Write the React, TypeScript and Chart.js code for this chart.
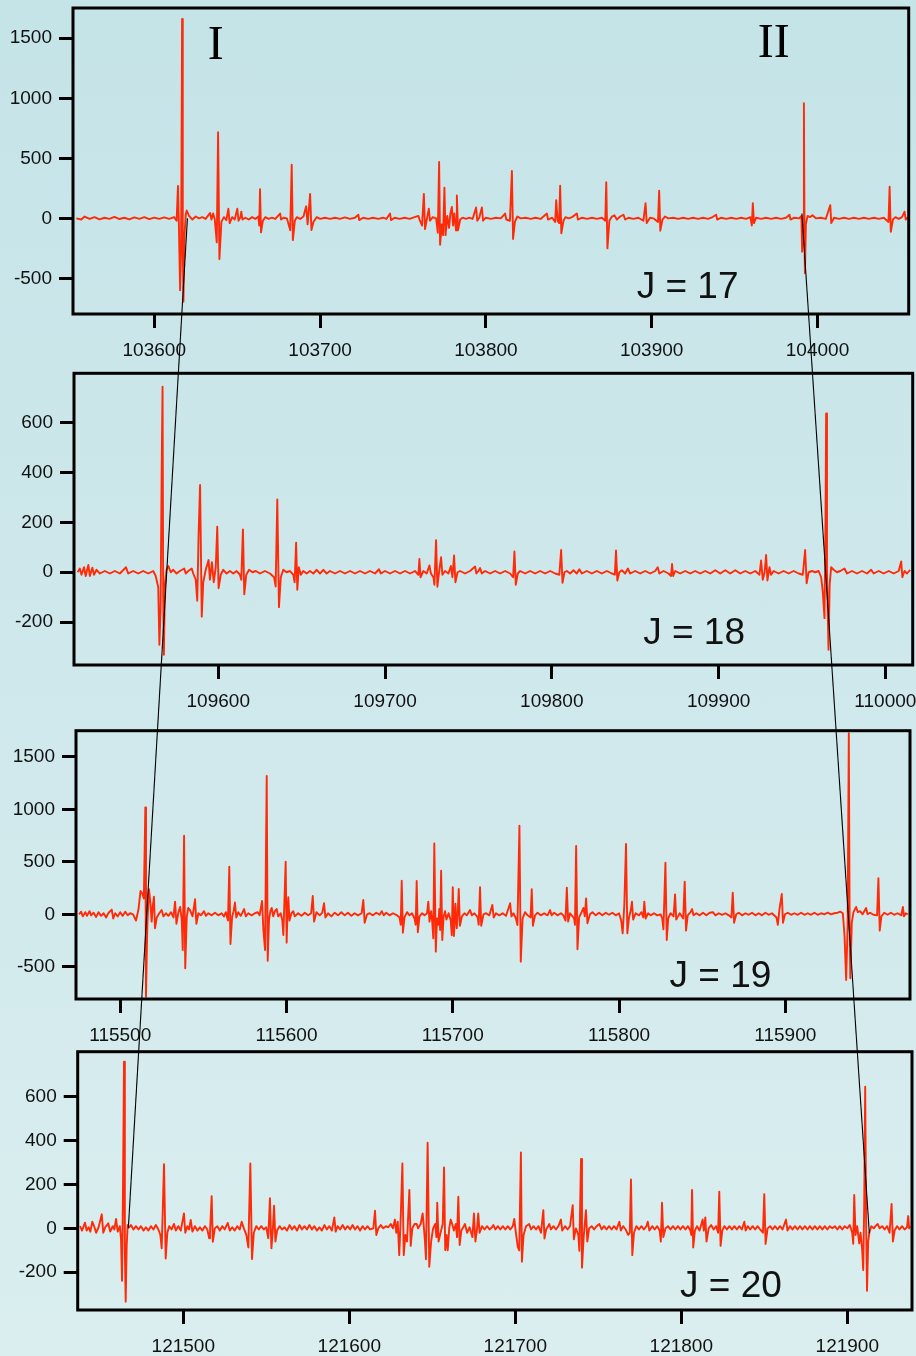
import React, { useEffect, useRef } from "react";
import { Chart, registerables } from "chart.js";

Chart.register(...registerables);

type Pt = [number, number];

// ---- spectra (wavenumber, signal) ----
const spectrumJ17: Pt[] = [
  [103553, 0], [103556, -10], [103558, 15], [103561, -5], [103564, 10], [103567, -8], [103570, 5], [103573, -5], [103576, 12], [103579, -6], [103582, 5], [103585, -8], [103588, 8], [103591, -4], [103594, 10], [103597, -6], [103600, 6], [103603, -5], [103606, 8], [103609, -4], [103612, 10], [103613.5, -20],
  [103614.3, 270], [103614.9, -80], [103615.6, -600], [103616.2, -250], [103616.8, 1660], [103617.2, -200], [103617.6, -695], [103618.2, -150], [103619, 30], [103619.6, 65], [103621, 20], [103623, -10], [103625, 15], [103627, 0], [103629, 10], [103631, -5],
  [103633.7, 45], [103634.5, -10], [103635.5, 40], [103636.5, -10], [103637.7, -200], [103638.5, 717], [103639.3, -339], [103640.5, -30], [103642, 10], [103643.5, -15], [103644.7, 80], [103645.5, -40], [103647, 10], [103648.5, -10], [103650.1, 80], [103650.8, -20], [103652, 10], [103652.5, 55], [103653.2, -10], [103655, 5], [103657, -10], [103659, 10], [103661, -5], [103662.8, 15], [103663.3, -60], [103663.8, 242], [103664.4, -117], [103665.5, -20], [103667, 10], [103669, -5], [103671, 5], [103673, -5], [103675.9, 40], [103676.5, -10], [103678, 5], [103680, 0], [103682, -100], [103682.9, 447], [103683.6, -181], [103684.8, -20], [103686, 10], [103688, -5], [103690, 15], [103691.6, 100], [103692.5, -50], [103694, 203], [103694.8, -97], [103696, -30], [103698, 10], [103700, -5], [103703, 5], [103706, -5], [103709, 5], [103712, -5], [103715, 8], [103718, -5], [103721, 5], [103723.1, 30], [103723.6, -15], [103726, 5], [103729, -5], [103732, 5], [103735, -5], [103738, 5], [103740, -5], [103742.2, 40], [103742.8, -15], [103745, 5], [103748, -5], [103751, 5], [103754, -5], [103757, 10], [103759.3, 20], [103760, -10], [103761.5, -60], [103762.6, 204], [103763.3, -90], [103764.5, 0], [103765.6, 80], [103766.3, -20], [103768, 10], [103770, 0], [103771, -120], [103771.8, 470], [103772.4, -220], [103773.4, -50], [103774.2, -140], [103775, 255], [103775.7, -140], [103776.7, 20], [103777.8, -80], [103778.6, 40], [103779.5, 95], [103780.2, -60], [103781, 40], [103782, -100], [103782.5, 190], [103783.2, -100], [103784.5, -10], [103786, 5], [103788, -5], [103790, 5], [103792, -5], [103794.1, 90], [103794.8, -20], [103796, 5], [103797.6, 90], [103798.3, -20], [103800, 5], [103803, -5], [103806, 5], [103809, 0], [103811.6, 40], [103812.3, -10], [103814.5, -20], [103815.7, 394], [103816.4, -172], [103817.5, -30], [103819, 15], [103821, 0], [103824, 5], [103827, -5], [103830, 5], [103833, -5], [103836.8, 40], [103837.5, -10], [103840, 5], [103841.8, -30], [103842.4, 150], [103843.3, -20], [103844.2, -40], [103844.8, 272], [103845.5, -125], [103846.8, -20], [103848, 10], [103850, 0], [103852, 10], [103854.9, 40], [103855.5, -10], [103858, 5], [103861, -5], [103864, 5], [103867, -5], [103870, 5], [103872, -20], [103872.6, 300], [103873.3, -250], [103874.5, -20], [103876, 15], [103877.5, 25], [103879, -10], [103881, 15], [103883, 30], [103884, -10], [103886, 5], [103889, -5], [103892, 5], [103895, -20], [103896.3, 125], [103897, -40], [103899, 5], [103901, 0], [103903.8, -30], [103904.5, 230], [103905.2, -103], [103906.5, -10], [103908, 15], [103910, 0], [103913, 5], [103916, -5], [103919, 5], [103922, -5], [103925, 5], [103928, -5], [103931, 5], [103934, -5], [103936, 5], [103938.9, 30], [103939.5, -10], [103942, 5], [103945, -5], [103948, 5], [103951, -5], [103954, 5], [103957, -5], [103959.5, 10], [103960.4, -60], [103961, 125], [103961.7, -40], [103963, 5], [103966, -5], [103969, 5], [103972, -5], [103975, 5], [103978, -5], [103981, 5], [103983.1, 30], [103983.7, -10], [103986, 5], [103989, 0], [103990.3, 20], [103990.7, -278], [103991.3, -100], [103991.8, 958], [103992.2, -200], [103992.4, -458], [103993, -50], [103994, 20], [103995.5, 10], [103997, 25], [103999, 0], [104002, 5], [104005, -5], [104007.7, 110], [104008.3, -40], [104010, 5], [104013, -5], [104016, 5], [104019, -5], [104022, 5], [104025, -5], [104028, 5], [104031, -5], [104034, 5], [104037, -5], [104040, 5], [104042.8, -30], [104043.5, 263], [104044.2, -112], [104045.5, -10], [104047, 10], [104049, -5], [104051, 10], [104052.5, 55], [104053.2, -10], [104054.5, 10],
];

const spectrumJ18: Pt[] = [
  [109515.7, 0], [109517, 15], [109518, -10], [109519.5, 20], [109520.5, -15], [109522.1, 29], [109523, -15], [109524.5, 18], [109525.5, -10], [109527, 10], [109529, -5], [109532, 5], [109535, -5], [109538, 5], [109541, -5], [109544.7, 20], [109546, -5], [109549, 5], [109552, -5], [109555, 5], [109558, -5], [109561, 5], [109562.5, -15], [109564, -60], [109564.7, -291], [109565.4, -150], [109566.1, 430], [109566.6, 744], [109567, -100], [109567.4, -331], [109568, -50], [109569, 10], [109570.1, 25], [109571.5, 0], [109573, 10], [109575, -5], [109577, 5], [109579.6, 15], [109580.5, -5], [109582, 5], [109584.1, 15], [109585, -5], [109586.5, -30], [109587.4, -114], [109588.2, 150], [109589.1, 350], [109590.1, -178], [109591, -40], [109592.5, 10], [109594.2, 49], [109595, -30], [109596.2, 40], [109597.3, -40], [109598.5, 20], [109599.4, 183], [109600.2, -64], [109601.5, -10], [109603, 10], [109605, -5], [109607, 5], [109609, -5], [109611, 5], [109613, -10], [109613.8, -30], [109614.8, 172], [109615.6, -88], [109616.8, -10], [109618.5, 10], [109620.5, 0], [109622.5, 5], [109625, -5], [109628, 5], [109631, -5], [109633.5, -20], [109634.4, -57], [109635.4, 292], [109636.4, -140], [109637.5, -20], [109639, 10], [109641, 0], [109643, 5], [109645, -10], [109645.8, -40], [109646.7, 119], [109647.4, -70], [109648.3, 20], [109649.5, -10], [109651, 5], [109653, -5], [109655, 5], [109657, -5], [109659, 10], [109661, -5], [109663, 10], [109665, -5], [109667, 5], [109670, -5], [109673, 5], [109676, -5], [109679, 5], [109682, -5], [109685, 5], [109688, -5], [109691, 5], [109694, -5], [109696.4, 12], [109697.5, -5], [109700, 5], [109703, -5], [109706, 5], [109709, -5], [109712, 5], [109715, -5], [109718, 5], [109720, -10], [109720.6, 53], [109721.3, -20], [109723, 5], [109725, -5], [109726.6, 27], [109727.5, -5], [109729, -20], [109729.6, -50], [109730.6, 129], [109731.4, -58], [109732.4, 0], [109733.6, 60], [109734.4, -10], [109736, 5], [109738, -5], [109739.5, 25], [109740.4, -20], [109741.4, 67], [109742.2, -40], [109743.5, 0], [109745, 5], [109748, -5], [109751, 5], [109754, 23], [109754.8, -5], [109756, 5], [109757, 17], [109758, -5], [109760, 5], [109763, -5], [109766, 5], [109769, -5], [109772, 5], [109775, -5], [109776.8, -20], [109777.6, 83], [109778.4, -50], [109779.6, -5], [109781, 5], [109784, -5], [109787, 5], [109790, -5], [109793, 5], [109796, -5], [109799, 5], [109802, -5], [109804.5, -10], [109805.6, 89], [109806.4, -42], [109807.6, 0], [109809, 5], [109811, -5], [109813, 8], [109815, -5], [109816.5, 12], [109818, -5], [109821, 5], [109824, -5], [109827, 5], [109830, -5], [109833, 5], [109836, -5], [109837.8, -10], [109838.5, 87], [109839.3, -33], [109840.5, 0], [109842, 8], [109844, -5], [109845.6, 15], [109847, -5], [109850, 5], [109853, -5], [109856, 5], [109859, -5], [109862, 5], [109863.5, 20], [109864.5, -5], [109867, 5], [109870, -5], [109871.5, -15], [109872.1, 33], [109872.8, -15], [109874, 5], [109877, -5], [109880, 5], [109883, -5], [109886, 5], [109889, -5], [109892, 5], [109895, -5], [109898, 8], [109901, -5], [109904, 8], [109907, -5], [109910, 8], [109913, -5], [109916, 5], [109919, -5], [109922, 5], [109924.5, -10], [109925.5, 47], [109926.5, -30], [109927.6, 0], [109928.5, 69], [109929.3, -33], [109930.5, 20], [109931.5, -10], [109933, 5], [109936, -5], [109939, 5], [109942, -5], [109945, 5], [109948, -5], [109950.5, -10], [109951.9, 89], [109952.8, -44], [109954, 0], [109956, 5], [109958, 0], [109960, 5], [109961.5, -20], [109962.5, -80], [109963.5, -184], [109964.1, 200], [109964.5, 637], [109965, 0], [109965.9, -311], [109966.6, -50], [109967.5, 20], [109969, 10], [109971, 0], [109973, 5], [109975.5, 15], [109977, -5], [109980, 5], [109983, -5], [109986, 5], [109989, -5], [109991.5, 10], [109993, -5], [109996, 5], [109999, -5], [110002, 5], [110005, -5], [110008, 5], [110009.5, 43], [110010.2, -20], [110011.5, 5], [110013, -5], [110014.9, 10],
];

const spectrumJ19: Pt[] = [
  [115475.2, 0], [115476.5, 25], [115477.5, -20], [115479, 20], [115480, -15], [115481.5, 30], [115482.5, -10], [115484, 15], [115485.5, -25], [115487, 20], [115488.5, -15], [115490, 10], [115491.5, -30], [115493, 15], [115494.9, 45], [115495.8, -40], [115497, 10], [115498.5, -20], [115500, 20], [115501.5, -15], [115503, 25], [115504.5, -10], [115506, 10], [115507.7, 0], [115509.5, -60], [115511, 50], [115512.2, 222], [115513.2, 200], [115514.2, 150], [115515.1, 1019], [115515.5, -785], [115516.3, -100], [115517.3, 238], [115518.2, 100], [115518.9, -70], [115519.6, 80], [115520.3, 168], [115520.9, -133], [115522, -30], [115523.5, 10], [115524.9, 40], [115526, -20], [115527.5, 10], [115529, -15], [115530.5, 20], [115532, -30], [115533, 120], [115533.8, -90], [115535, 20], [115536, 70], [115537, -50], [115537.6, -340], [115538.4, 749], [115539.1, -514], [115540, -30], [115540.9, 60], [115542, 40], [115543.5, -20], [115545, 143], [115545.8, -90], [115547, 10], [115548.5, -10], [115550.4, 30], [115551.5, -15], [115553, 10], [115555, -10], [115557, 15], [115559, -10], [115561, 10], [115562.4, -20], [115563.5, 20], [115564.8, -60], [115565.6, 453], [115566.3, -283], [115567.3, -20], [115568.2, 30], [115569, 112], [115569.8, -30], [115571, 20], [115572.5, -15], [115574.5, 50], [115575.5, -20], [115577, 10], [115579, -10], [115581, 10], [115582.7, 20], [115583.8, -10], [115585.3, 127], [115586.1, -150], [115587.1, -340], [115588.1, 1317], [115588.7, -442], [115589.5, -50], [115590.3, 30], [115591.1, 60], [115592, -20], [115593, 30], [115594.1, 50], [115595, -20], [115596.5, 10], [115597.5, -60], [115598.1, -197], [115599.5, 501], [115600.1, -270], [115600.6, 20], [115601.1, 162], [115601.8, -60], [115603, 10], [115604.1, 30], [115605, -20], [115607, 10], [115609, -15], [115611, 15], [115613, -10], [115614.8, 10], [115615.8, 174], [115616.6, -70], [115618, 20], [115620, -10], [115621.5, 15], [115622.6, 105], [115623.4, -30], [115625, 10], [115627, -20], [115629, 15], [115631, -10], [115633, 20], [115635, -10], [115637, 15], [115639, -15], [115641, 10], [115643, -10], [115645.2, 10], [115646.2, 136], [115647, -80], [115648.5, 0], [115650, 10], [115652, -10], [115654, 15], [115656, -5], [115657.3, 30], [115658.5, -10], [115660, 15], [115662, -10], [115664, 10], [115666, -5], [115668, -30], [115668.7, -100], [115669.3, 320], [115670, -175], [115671, -30], [115672.5, 20], [115674, -10], [115675.5, 10], [115677, -40], [115677.7, -100], [115678.3, 317], [115679, -171], [115680, -20], [115681.5, 10], [115683, -10], [115684.5, 10], [115685.3, 120], [115686, -70], [115687, 30], [115687.7, -80], [115688.3, -229], [115688.9, 676], [115689.8, -356], [115690.5, -40], [115691.3, -100], [115691.9, 50], [115692.4, -150], [115693, 415], [115693.7, -245], [115694.5, -20], [115695.4, 30], [115696.2, -50], [115697.5, 10], [115698.8, -60], [115699.4, -200], [115700, 257], [115700.7, -207], [115701.2, -50], [115701.6, 100], [115702.4, -133], [115703, 0], [115703.6, 241], [115704.3, -110], [115705.5, -20], [115707, 10], [115708.5, -10], [115710.4, 40], [115711.5, -10], [115713, 10], [115715, -30], [115715.6, -100], [115716.4, 257], [115717.1, -110], [115718.5, 0], [115720, 10], [115722, -10], [115723.8, 89], [115724.6, -30], [115726, 10], [115728, -10], [115730, 10], [115732, -15], [115734.5, 105], [115735.3, -20], [115736.5, 10], [115738, -40], [115738.9, -102], [115740.1, 844], [115740.9, -451], [115742, -40], [115743.5, 20], [115745, -10], [115746.8, -30], [115747.5, 238], [115748.2, -110], [115749.5, -10], [115751, 15], [115753, -10], [115755, 10], [115757, -10], [115758.5, 40], [115759.5, -10], [115761, 15], [115763, -10], [115765, 10], [115766.5, -10], [115767.8, -60], [115768.6, 254], [115769.4, -70], [115770.5, 10], [115772, -20], [115773, -40], [115773.5, -100], [115774.2, 650], [115775, -333], [115776, -30], [115777.5, 20], [115778.6, 60], [115779.4, -20], [115780.2, 152], [115781, -86], [115782.5, 0], [115784, 20], [115786, -10], [115788, 15], [115790, -10], [115792, 15], [115794, -5], [115796, 15], [115798, -10], [115800, 10], [115801.3, -60], [115802.2, -181], [115803.2, 100], [115804.2, 669], [115805, -181], [115806, -30], [115807.1, 40], [115807.8, 120], [115808.5, -50], [115810, 10], [115812, -10], [115813.5, 20], [115814.6, -30], [115815.2, 120], [115816, -40], [115817.5, 10], [115819, -10], [115821, 10], [115823, -10], [115825, 0], [115826, -40], [115826.7, -143], [115827.9, 491], [115828.7, -245], [115829.6, -40], [115831, 10], [115832.8, -20], [115833.7, 190], [115834.4, -50], [115835.5, -20], [115836.5, 10], [115838.6, -40], [115839.5, 311], [115840.3, -156], [115841.3, -10], [115843, 20], [115843.9, 50], [115844.8, -10], [115846.5, 10], [115848.5, -10], [115850.5, 15], [115852.5, -10], [115854.5, 15], [115856.5, 20], [115858, -10], [115860, 10], [115862, -5], [115864, 10], [115866, -10], [115867.6, -30], [115868.4, 206], [115869.2, -80], [115870.5, 0], [115872, 15], [115874, -10], [115876, 10], [115878, -5], [115880, 15], [115882, -10], [115884, 10], [115886, -10], [115888, 15], [115890, -5], [115892, 10], [115894.7, -30], [115895.5, -100], [115896.5, 50], [115897.9, 194], [115898.6, -80], [115899.8, 0], [115901.5, 15], [115903.5, -5], [115905.5, 10], [115907.5, -5], [115909.5, 15], [115911.5, -5], [115913.5, 10], [115915.5, -5], [115917.5, 15], [115919.5, -5], [115921.5, 10], [115923.5, 0], [115925.5, 15], [115927.5, 0], [115929.5, 10], [115931.5, 15], [115933, 25], [115934.6, 10], [115935.6, -200], [115936.6, -626], [115937.5, -100], [115938.2, 1724], [115938.7, -100], [115939.1, -610], [115940, -80], [115941, 20], [115942.6, 70], [115943.6, 20], [115945, 30], [115946.5, 0], [115948.6, 60], [115949.5, 0], [115951, 15], [115953, -5], [115955.2, -10], [115956, 343], [115956.8, -156], [115957.8, -20], [115959.5, 15], [115961.5, -5], [115963.5, 15], [115965.5, -5], [115967.5, 10], [115969.8, -10], [115970.7, 70], [115971.4, -20], [115972.5, 10], [115973.7, 0],
];

const spectrumJ20: Pt[] = [
  [121437.8, 10], [121439, -10], [121440.8, 26], [121441.8, -10], [121443, 5], [121444, -15], [121445.2, 30], [121446.3, 10], [121447.5, -20], [121449, 5], [121450.9, 64], [121451.8, -20], [121453, 5], [121454.8, 23], [121456, -15], [121457.5, 10], [121458.5, -5], [121459.5, 43], [121460.5, -15], [121461.8, 10], [121462.5, -50], [121463.1, -239], [121463.7, 200], [121464.3, 759], [121464.8, -100], [121465.3, -334], [121465.9, -80], [121466.5, 15], [121467.5, 5], [121468.5, 15], [121470, -5], [121471.5, 10], [121473, -5], [121474.5, 10], [121476, -10], [121477.5, 5], [121479, -10], [121480.5, 10], [121482, -5], [121483.5, 15], [121485, -5], [121486.2, -30], [121487, -91], [121487.7, 100], [121488.4, 292], [121489.4, -137], [121490.4, -20], [121491.5, 10], [121493, -5], [121494.4, 20], [121495.5, -10], [121497, 10], [121498.5, -10], [121500.4, 68], [121501.2, -20], [121502.5, 10], [121503.5, -5], [121504.5, 38], [121505.5, -15], [121507, 10], [121508.5, -10], [121510, 5], [121511.5, -10], [121513, 10], [121514.5, -5], [121515.6, -45], [121516.1, -20], [121517.1, 147], [121517.8, -61], [121519, 0], [121520.5, 10], [121522, -10], [121523.5, 10], [121525, -5], [121526.8, 25], [121528, -10], [121529.5, 5], [121531, -10], [121532.5, 10], [121534, -5], [121535.2, 30], [121536.5, 0], [121538, -30], [121539.2, -87], [121540.4, 296], [121541.4, -140], [121542.5, -20], [121544, 10], [121545.5, -5], [121547, 10], [121548.5, -5], [121550, 5], [121551.2, -45], [121552.2, 137], [121553.1, -91], [121554, 0], [121554.7, 103], [121555.5, -60], [121556.5, -10], [121558, 10], [121559.5, -5], [121561, 5], [121562.5, -10], [121564, 15], [121565.5, -5], [121567, 10], [121568.5, -10], [121570, 15], [121571.5, -5], [121573, 10], [121574.5, -5], [121576, 15], [121577.5, -5], [121579, 10], [121580.5, -10], [121582, 5], [121583.5, -10], [121585, 15], [121586.5, -5], [121588, 10], [121589.5, -10], [121591, 50], [121591.8, -15], [121593, 10], [121594.5, -5], [121596, 15], [121597.5, -5], [121599, 10], [121600.5, -5], [121602, 15], [121603.5, -5], [121605, 10], [121606.5, -10], [121608, 10], [121609.5, -5], [121611, 10], [121612.5, -5], [121614.5, 0], [121615.5, 80], [121616.3, -30], [121617.5, 0], [121619, 15], [121620.5, 0], [121622, 10], [121623.5, 5], [121625, 20], [121626.3, 0], [121627.5, 40], [121628.3, -20], [121629.2, 30], [121630.1, -122], [121631, 50], [121632, 296], [121632.8, -122], [121633.8, -30], [121634.8, -60], [121636.2, 175], [121637, -80], [121638, 0], [121639.3, 20], [121640.6, 20], [121641.5, 0], [121643, 20], [121644.2, 68], [121645, 0], [121645.6, -60], [121646.2, -141], [121647.2, 390], [121648.2, -175], [121649.3, -60], [121650.5, 0], [121651.8, 20], [121652.5, -40], [121653, 117], [121653.8, -60], [121655, -20], [121656.3, 20], [121657.1, 278], [121657.8, -99], [121658.6, -30], [121659.3, -100], [121660.2, 0], [121661.1, 40], [121662, 20], [121663, -10], [121664.2, 20], [121664.9, -40], [121665.7, 144], [121666.5, -76], [121667.5, -10], [121669, 10], [121669.7, 20], [121671, -20], [121672.5, 5], [121674.2, -40], [121675.1, 68], [121676, -60], [121677, 0], [121677.7, 68], [121678.5, -20], [121680, 10], [121681.5, -5], [121683, 10], [121684.5, -5], [121686, 5], [121686.8, 15], [121688, -5], [121689.5, 10], [121691, -5], [121692.5, 10], [121694, -5], [121695.5, 10], [121697, -5], [121698.5, 10], [121699.4, 43], [121700.2, -10], [121701.5, -84], [121702.4, -100], [121703.4, 346], [121704, -152], [121705, -30], [121706.5, 10], [121708.4, 20], [121709.5, -5], [121711, 10], [121712.5, -5], [121714, 10], [121715.5, -20], [121716.9, 83], [121717.6, -46], [121718.6, -5], [121720.5, 20], [121721.5, -5], [121723, 10], [121724.5, -5], [121726, 10], [121727.5, 40], [121728.3, -10], [121730, 10], [121731.5, -5], [121733, 10], [121734.6, 106], [121735.3, -50], [121736.5, 0], [121738, -30], [121738.6, -102], [121739.6, 316], [121740.2, -179], [121741.2, -40], [121742.6, 83], [121743.4, -60], [121744.5, 0], [121746, 10], [121747.5, -5], [121749, 10], [121750.6, 20], [121752, -5], [121753.5, 10], [121755, -5], [121756.5, 10], [121758, -5], [121759.5, 10], [121761, -5], [121762.7, 30], [121763.6, -10], [121765, 10], [121766.5, -5], [121768, -30], [121769, -20], [121769.7, 223], [121770.5, -122], [121771.5, -20], [121773, 10], [121774.5, -5], [121776, 10], [121777.5, -5], [121779, 10], [121779.8, 30], [121780.8, -10], [121782.5, 10], [121784, -5], [121785.5, 10], [121787, -10], [121787.7, -60], [121788.4, 117], [121789.2, -40], [121790.5, 0], [121792, 10], [121793.5, -5], [121795, 10], [121796.5, -5], [121798, 10], [121799.5, -5], [121801, 10], [121802.5, -5], [121804, 10], [121805.5, -10], [121806, -30], [121806.5, 175], [121807.2, -87], [121808.2, -10], [121809.5, 10], [121811, -10], [121812.9, 40], [121813.6, -10], [121814.5, 50], [121815.2, -60], [121816.5, 0], [121818, 15], [121819.5, -5], [121821, 10], [121822.2, -20], [121822.9, 167], [121823.7, -80], [121824.7, -10], [121826, 10], [121827.5, -5], [121829, 10], [121830.5, -5], [121832, 10], [121833.5, -5], [121835, 10], [121836.5, -5], [121838, 30], [121838.8, -10], [121840, 10], [121841.5, -5], [121843, 10], [121844.5, -5], [121846, 10], [121847.5, -5], [121849.2, -20], [121850, 156], [121850.8, -71], [121852, 0], [121853.5, 10], [121855, -5], [121856.5, 10], [121858, -5], [121859.5, 10], [121861, -5], [121863.1, 40], [121864, -10], [121865.5, 10], [121867, -5], [121868.5, 10], [121870, -5], [121871.5, 10], [121873, -5], [121874.5, 10], [121876, -5], [121877.5, 10], [121879, -5], [121880.5, 10], [121882, -5], [121883.5, 10], [121885, -5], [121886.5, 10], [121888, -5], [121889.5, 10], [121891, 0], [121892.5, 10], [121894, -5], [121895.5, 10], [121897, -5], [121898.5, 10], [121900, 0], [121901.5, 15], [121903, -20], [121903.6, -70], [121904.2, 152], [121905, -30], [121906, 10], [121907.2, -68], [121908, -20], [121909, -100], [121909.6, -190], [121910.2, 100], [121910.8, 645], [121911.4, 0], [121911.9, -284], [121912.6, -60], [121913.3, -20], [121914.5, 10], [121916, 0], [121917, 10], [121918.3, 20], [121919.5, 0], [121921, 10], [121922.5, -5], [121924, 10], [121925.5, -20], [121926.7, 111], [121927.5, -60], [121928.5, -10], [121930, 10], [121931.5, -5], [121933, 10], [121934.5, -5], [121936, 5], [121936.7, 56], [121937.3, 0], [121937.8, 10],
];

// ---- tick labels ----
const xTicksJ17 = [103600, 103700, 103800, 103900, 104000];
const xTicksJ18 = [109600, 109700, 109800, 109900, 110000];
const xTicksJ19 = [115500, 115600, 115700, 115800, 115900];
const xTicksJ20 = [121500, 121600, 121700, 121800, 121900];
const yTicksWide = [-500, 0, 500, 1000, 1500];
const yTicksNarrow = [-200, 0, 200, 400, 600];

// ---- texts ----
const panelLabels = ["J = 17", "J = 18", "J = 19", "J = 20"];
const bandLabels = ["I", "II"];

// ---- connector lines for bands I and II: point on J=17 panel, point on J=20 panel ----
const bandITop: Pt = [103620, 0];
const bandIBottom: Pt = [121466.9, 0];
const bandIITop: Pt = [103990.6, 40];
const bandIIBottom: Pt = [121913.3, -23];

const W = 916;
const H = 1356;
const RED = "rgb(255, 42, 8)";
const INK = "#111";
const SANS = '"Liberation Sans", Arial, Helvetica, sans-serif';
const SERIF = '"Liberation Serif", "Times New Roman", serif';

type Panel = {
  data: Pt[];
  xTicks: number[];
  yTicks: number[];
  xRange: [number, number];
  yRange: [number, number];
  label: string;
  top: number;
  height: number;
  plotLeft: number;
  plotRight: number;
  plotTop: number;
  plotBottom: number;
  labelDx: number;
  labelDy: number;
  roman?: boolean;
};

const panels: Panel[] = [
  { data: spectrumJ17, xTicks: xTicksJ17, yTicks: yTicksWide, xRange: [103551, 104055], yRange: [-797, 1752], label: panelLabels[0],
    top: 0, height: 365, plotLeft: 73, plotRight: 908.7, plotTop: 8, plotBottom: 314, labelDx: -272, labelDy: 15.7, roman: true },
  { data: spectrumJ18, xTicks: xTicksJ18, yTicks: yTicksNarrow, xRange: [109513.5, 110016.4], yRange: [-372, 798], label: panelLabels[1],
    top: 365, height: 355, plotLeft: 74, plotRight: 912.7, plotTop: 8.3, plotBottom: 300, labelDx: -269.5, labelDy: 21 },
  { data: spectrumJ19, xTicks: xTicksJ19, yTicks: yTicksWide, xRange: [115473.4, 115975], yRange: [-807, 1749], label: panelLabels[2],
    top: 720, height: 322, plotLeft: 76, plotRight: 910, plotTop: 10.7, plotBottom: 279, labelDx: -240.5, labelDy: 12.3 },
  { data: spectrumJ20, xTicks: xTicksJ20, yTicks: yTicksNarrow, xRange: [121436.4, 121939], yRange: [-372, 805], label: panelLabels[3],
    top: 1042, height: 314, plotLeft: 77.7, plotRight: 912, plotTop: 9.7, plotBottom: 268, labelDx: -232, labelDy: 13.3 },
];

function zeroPad(s: any) {
  s.paddingLeft = 0;
  s.paddingRight = 0;
  s.paddingTop = 0;
  s.paddingBottom = 0;
}

function makeChart(canvas: HTMLCanvasElement, p: Panel): Chart {
  const framePlugin = {
    id: "frameAndLabels",
    afterDraw(chart: any) {
      const { ctx, chartArea: a } = chart;
      ctx.save();
      ctx.strokeStyle = "#000";
      ctx.lineWidth = 3;
      ctx.strokeRect(a.left, a.top, a.right - a.left, a.bottom - a.top);
      ctx.fillStyle = INK;
      ctx.textBaseline = "alphabetic";
      ctx.textAlign = "left";
      ctx.font = `37px ${SANS}`;
      ctx.fillText(p.label, a.right + p.labelDx, a.bottom - p.labelDy);
      if (p.roman) {
        ctx.fillStyle = "#000";
        ctx.font = `48px ${SERIF}`;
        ctx.fillText(bandLabels[0], a.left + 134.8, a.top + 51.3);
        ctx.fillText(bandLabels[1], a.right - 151, a.top + 49.3);
      }
      ctx.restore();
    },
  };

  const tickFont = { family: SANS, size: 19 };
  return new Chart(canvas, {
    type: "line",
    data: {
      datasets: [
        {
          data: p.data.map(([x, y]) => ({ x, y })),
          borderColor: RED,
          borderWidth: 1.9,
          pointRadius: 0,
          tension: 0,
          fill: false,
          borderJoinStyle: "round",
        } as any,
      ],
    },
    options: {
      animation: false,
      responsive: false,
      devicePixelRatio: 1,
      events: [],
      layout: {
        autoPadding: false,
        padding: { left: 0, right: W - p.plotRight, top: p.plotTop, bottom: 0 },
      } as any,
      plugins: { legend: { display: false }, tooltip: { enabled: false }, title: { display: false } },
      scales: {
        x: {
          type: "linear",
          min: p.xRange[0],
          max: p.xRange[1],
          afterBuildTicks: (s: any) => {
            s.ticks = p.xTicks.map((v) => ({ value: v }));
          },
          afterFit: (s: any) => {
            s.height = p.height - p.plotBottom;
            zeroPad(s);
          },
          grid: { display: true, drawOnChartArea: false, drawTicks: true, tickLength: 14, tickWidth: 3, tickColor: "#000" } as any,
          border: { display: false },
          ticks: { font: tickFont, color: INK, padding: 11, maxRotation: 0, autoSkip: false, callback: (v: any) => String(v) },
        },
        y: {
          type: "linear",
          min: p.yRange[0],
          max: p.yRange[1],
          afterBuildTicks: (s: any) => {
            s.ticks = p.yTicks.map((v) => ({ value: v }));
          },
          afterFit: (s: any) => {
            s.width = p.plotLeft;
            zeroPad(s);
          },
          grid: { display: true, drawOnChartArea: false, drawTicks: true, tickLength: 14, tickWidth: 3, tickColor: "#000" } as any,
          border: { display: false },
          ticks: { font: tickFont, color: INK, padding: 7, autoSkip: false, callback: (v: any) => String(v) },
        },
      },
    } as any,
    plugins: [framePlugin],
  });
}

export default function App() {
  const refs = [useRef<HTMLCanvasElement>(null), useRef<HTMLCanvasElement>(null), useRef<HTMLCanvasElement>(null), useRef<HTMLCanvasElement>(null)];
  const overlayRef = useRef<HTMLCanvasElement>(null);

  useEffect(() => {
    const charts = panels.map((p, i) => makeChart(refs[i].current as HTMLCanvasElement, p));

    const ov = overlayRef.current as HTMLCanvasElement;
    const ctx = ov.getContext("2d") as CanvasRenderingContext2D;
    ctx.clearRect(0, 0, W, H);
    const first = charts[0];
    const last = charts[charts.length - 1];
    const lastTop = panels[panels.length - 1].top;
    const toPx = (c: Chart, top: number, pt: Pt) => [
      (c.scales as any).x.getPixelForValue(pt[0]),
      (c.scales as any).y.getPixelForValue(pt[1]) + top,
    ];
    ctx.strokeStyle = "#000";
    ctx.lineWidth = 1.1;
    [[bandITop, bandIBottom], [bandIITop, bandIIBottom]].forEach(([a, b]) => {
      const [x1, y1] = toPx(first, panels[0].top, a);
      const [x2, y2] = toPx(last, lastTop, b);
      ctx.beginPath();
      ctx.moveTo(x1, y1);
      ctx.lineTo(x2, y2);
      ctx.stroke();
    });

    return () => {
      charts.forEach((c) => c.destroy());
    };
  }, []);

  return (
    <div
      style={{
        position: "absolute",
        left: 0,
        top: 0,
        width: W,
        height: H,
        overflow: "hidden",
        background: "linear-gradient(180deg, #c5e4e8 0%, #cfe8eb 50%, #daeeef 100%)",
      }}
    >
      {panels.map((p, i) => (
        <canvas
          key={i}
          ref={refs[i]}
          width={W}
          height={p.height}
          style={{ position: "absolute", left: 0, top: p.top, width: W, height: p.height }}
        />
      ))}
      <canvas
        ref={overlayRef}
        width={W}
        height={H}
        style={{ position: "absolute", left: 0, top: 0, width: W, height: H, pointerEvents: "none" }}
      />
    </div>
  );
}
